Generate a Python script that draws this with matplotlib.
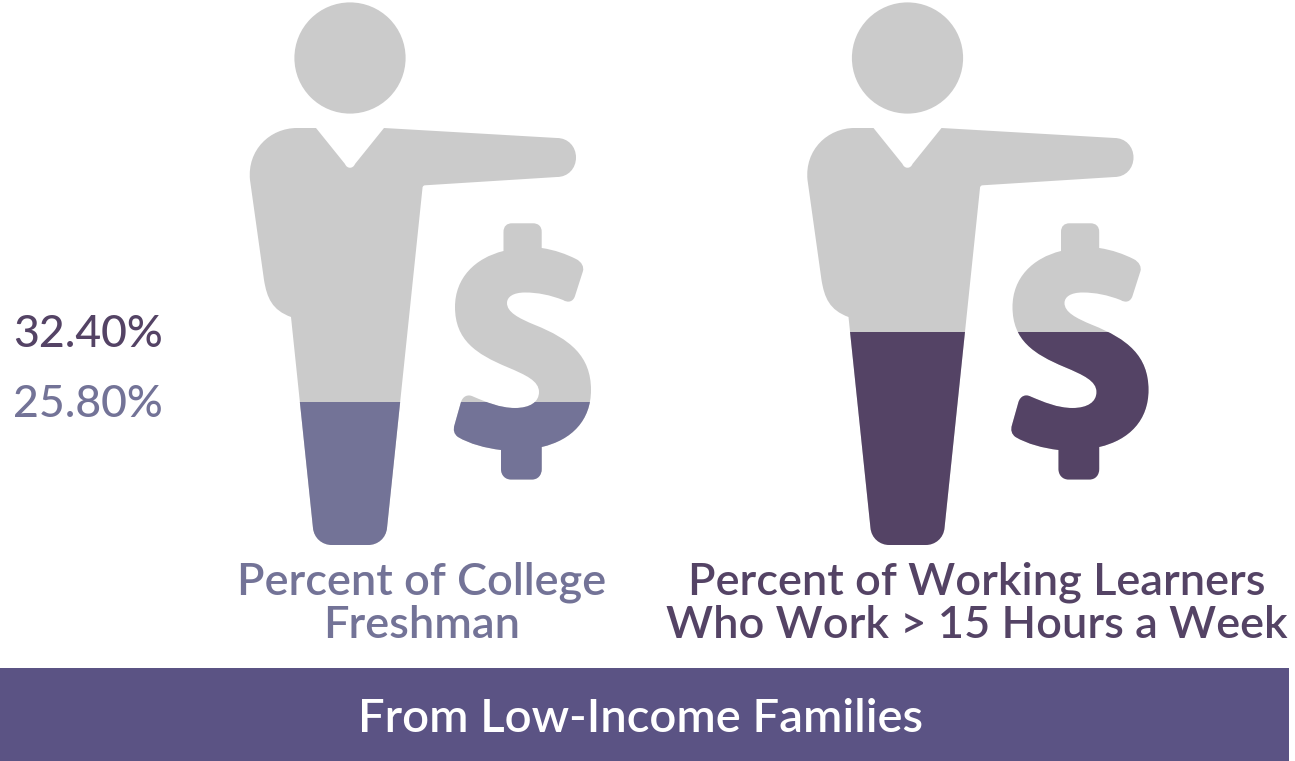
#!/usr/bin/env python3
"""Pictogram: share of learners from low-income families, filled person + dollar icons."""

import matplotlib
matplotlib.use("Agg")
import matplotlib.pyplot as plt
from matplotlib.patches import PathPatch, Rectangle
from matplotlib.path import Path
from matplotlib.transforms import Affine2D

# ----- data -----
groups = ["Percent of College\nFreshman", "Percent of Working Learners\nWho Work > 15 Hours a Week"]
values = [25.8, 32.4]
banner_label = "From Low-Income Families"

GREY = "#cbcbcb"
fill_colors = ["#737397", "#544365"]
BANNER = "#5b5384"
W, H = 1295, 761


def trace(start, *segments):
    """Closed path: a 1-point segment is a line, a 3-point segment a cubic."""
    verts, codes = [start], [Path.MOVETO]
    for seg in segments:
        verts.extend(seg)
        codes.extend([Path.LINETO] if len(seg) == 1 else [Path.CURVE4] * 3)
    verts.append(start)
    codes.append(Path.CLOSEPOLY)
    return Path(verts, codes)


# icon outline in pixel coordinates, y pointing down
body = trace(
    (316, 128),
    [(345, 164)], [(347, 169), (353, 169), (355, 164)], [(384, 128)],
    [(557, 138)], [(568, 138), (576, 146.5), (576, 157.5)], [(576, 168.5), (568, 177), (557, 177)],
    [(425, 185.3)], [(423, 185.5), (422.5, 187), (422.5, 188)],
    [(387, 528)], [(386, 538), (378, 545), (368, 545)],
    [(332, 545)], [(322, 545), (314, 538), (313, 528)],
    [(291, 317)], [(272, 310), (267, 298), (264, 280)],
    [(250, 180)], [(247, 150), (270, 128), (297, 128)],
)
dollar = trace(
    (503.5, 232),
    [(503.5, 226), (507, 223.3), (512, 223.3)], [(533, 223.3)],
    [(538, 223.3), (541.7, 226), (541.7, 232)], [(541.7, 248)],
    [(555, 250), (566, 254), (576, 259)], [(582, 262), (584, 267), (583, 271)],
    [(575, 296)], [(573, 302), (568, 303), (563, 300)],
    [(550, 295), (538, 292.5), (525, 292.5)], [(513, 292.5), (507, 297), (507, 303)],
    [(507, 312), (518, 318), (535, 325)], [(570, 339), (591, 356), (591, 390)],
    [(591, 420), (572, 440), (541.7, 447)], [(541.7, 469)],
    [(541.7, 475), (538, 479.5), (532, 479.5)], [(511, 479.5)],
    [(505, 479.5), (501, 475), (501, 469)], [(501, 450)],
    [(485, 448), (470, 444), (458, 437)], [(454, 434), (453, 430), (454.5, 425)],
    [(461, 402)], [(463, 396), (468, 394), (473, 396.5)],
    [(486, 402), (500, 408), (515, 408)], [(530, 408), (539, 402), (539, 392)],
    [(539, 381), (526, 375), (507, 367)], [(476, 354), (455, 340), (455, 307)],
    [(455, 278), (475, 258), (503.5, 251)],
)
head = Path.circle((350, 58), 55.6)
icon = Path.make_compound_path(head, body, dollar)

# fill level scale: pixel height per percentage point
px_per_pct = 70 / 6.6
pct_at_top = 25.8 + 402 / px_per_pct
pct_at_bottom = 25.8 - (H - 402) / px_per_pct

fig = plt.figure(figsize=(W / 100, H / 100), dpi=100, facecolor="white")
ax = fig.add_axes([0, 0, 1, 1])
ax.set_xlim(0, W)
ax.set_ylim(H, 0)
ax.axis("off")

# same x range, y in percent, for the fill bars and the value labels
ax_val = fig.add_axes([0, 0, 1, 1], sharex=ax)
ax_val.set_ylim(pct_at_bottom, pct_at_top)
ax_val.axis("off")

label_x = [422, 977]
offsets = [0, 557.5]
for name, value, color, dx, lx in zip(groups, values, fill_colors, offsets, label_x):
    shape = PathPatch(icon, facecolor=GREY, edgecolor="none",
                      transform=Affine2D().translate(dx, 0) + ax.transData)
    ax.add_patch(shape)
    bar = ax_val.bar(420 + dx, value - pct_at_bottom, bottom=pct_at_bottom, width=360,
                     color=color, linewidth=0)[0]
    bar.set_clip_path(shape)
    ax_val.text(13, value + 0.1, f"{value:.2f}%", color=color, fontsize=32, family="Lato",
                weight="medium", ha="left", va="center_baseline")
    ax.text(lx, 604, name, color=color, fontsize=32.5, family="Lato", weight="semibold",
            ha="center", va="center", linespacing=1.06)

ax.add_patch(Rectangle((0, 668), 1289, H - 668, facecolor=BANNER, edgecolor="none"))
ax.text(641, 719, banner_label, color="white", fontsize=34, family="Lato", weight="semibold",
        ha="center", va="center")

fig.savefig("out.png", dpi=100)
plt.close(fig)
